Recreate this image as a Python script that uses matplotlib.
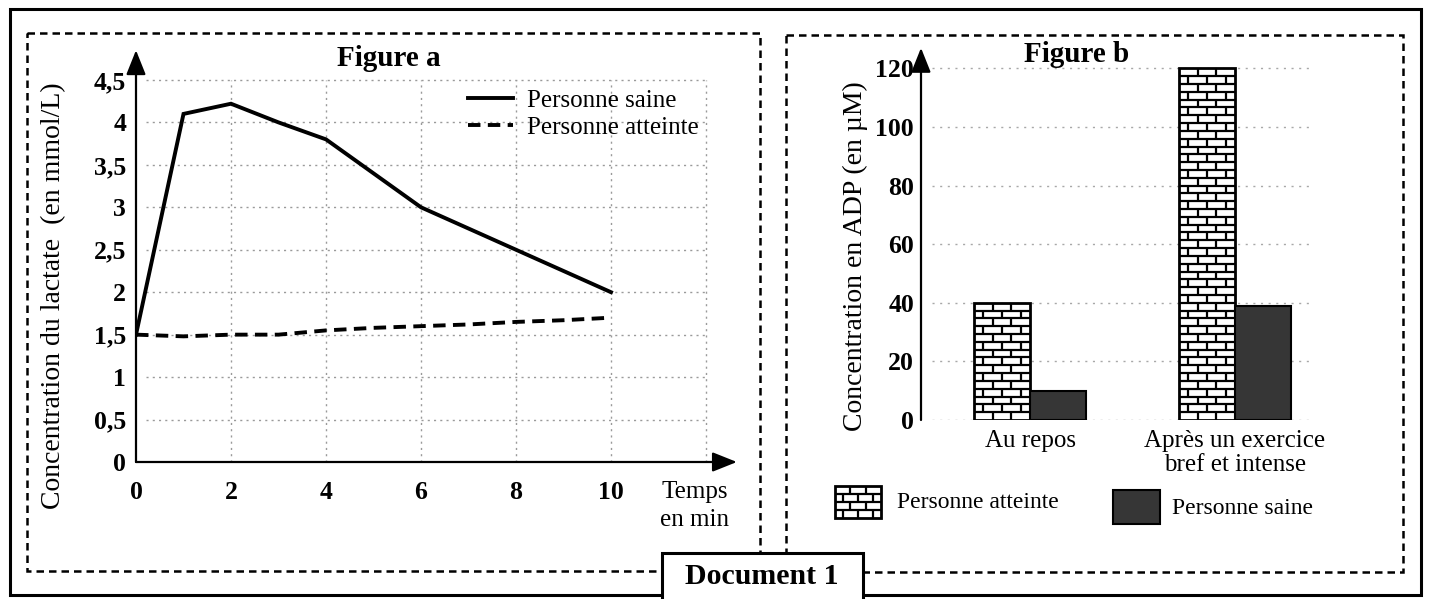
import numpy as np
import matplotlib
matplotlib.use("Agg")
import matplotlib.pyplot as plt
from matplotlib.patches import Rectangle
from matplotlib.collections import LineCollection

# ---------------- data ----------------
# Figure a : lactate concentration over time
time_min = [0, 1, 2, 3, 4, 5, 6, 7, 8, 9, 10]
lactate_saine = [1.5, 4.1, 4.22, 4.0, 3.8, 3.4, 3.0, 2.75, 2.5, 2.25, 2.0]
lactate_atteinte = [1.5, 1.48, 1.5, 1.5, 1.55, 1.58, 1.6, 1.62, 1.65, 1.67, 1.7]
yticks_a = [0, 0.5, 1, 1.5, 2, 2.5, 3, 3.5, 4, 4.5]
ytick_labels_a = ["0", "0,5", "1", "1,5", "2", "2,5", "3", "3,5", "4", "4,5"]
xticks_a = [0, 2, 4, 6, 8, 10]
xtick_labels_a = ["0", "2", "4", "6", "8", "10"]

# Figure b : ADP concentration
categories_b = ["Au repos", "Après un exercice\nbref et intense"]
adp_atteinte = [40, 120]
adp_saine = [10, 39]
yticks_b = [0, 20, 40, 60, 80, 100, 120]

W, H = 1429, 599
SERIF = ["Liberation Serif", "DejaVu Serif"]
plt.rcParams["font.family"] = SERIF

fig = plt.figure(figsize=(W / 100, H / 100), dpi=100)


def px_rect(left, right, top, bottom):
    return [left / W, 1 - bottom / H, (right - left) / W, (bottom - top) / H]


def fx(x):
    return x / W


def fy(y):
    return 1 - y / H


# overlay axes in pixel coordinates for frames / decorations
ov = fig.add_axes([0, 0, 1, 1], zorder=-1)
ov.set_xlim(0, W)
ov.set_ylim(H, 0)
ov.axis("off")

# outer solid frame
ov.add_patch(Rectangle((10, 9), 1411, 586, fill=False, lw=2.2, ec="black"))
# dashed frames
ov.add_patch(Rectangle((27, 33), 733, 538, fill=False, lw=1.8, ec="black",
                       ls=(0, (3, 2))))
ov.add_patch(Rectangle((786, 35), 617, 537, fill=False, lw=1.8, ec="black",
                       ls=(0, (3, 2))))


def draw_bricks(ax, x0, y0, w, h, row_h, n_cols, transform, clip, lw, z):
    rows = int(np.ceil(h / row_h - 1e-6))
    segs = []
    for r in range(rows):
        yb = y0 + r * row_h
        yt = min(yb + row_h, y0 + h)
        if r > 0:
            segs.append([(x0, yb), (x0 + w, yb)])
        off = 0.5 if r % 2 else 0.0
        for j in range(-1, n_cols + 2):
            xv = x0 + (j + off) * w / n_cols
            if x0 + 1e-9 < xv < x0 + w - 1e-9:
                segs.append([(xv, yb), (xv, yt)])
    lc = LineCollection(segs, colors="black", linewidths=lw,
                        transform=transform, zorder=z)
    lc.set_clip_path(clip)
    ax.add_collection(lc, autolim=False)


arrow_kw = dict(arrowstyle="-|>,head_length=1.0,head_width=0.4", lw=1.6,
                color="black", shrinkA=0, shrinkB=0, mutation_scale=15)

# ---------------- Figure a ----------------
xs_a = 47.5  # px per minute
ys_a = 84.9  # px per unit
xmax_a, ymax_a = 13.0, 4.9
axa = fig.add_axes(px_rect(136, 136 + xmax_a * xs_a, 462 - ymax_a * ys_a, 462))
axa.set_xlim(0, xmax_a)
axa.set_ylim(0, ymax_a)
for s in axa.spines.values():
    s.set_visible(False)
axa.patch.set_alpha(0)

grid_kw = dict(color="#9a9a9a", lw=1.0, ls=(0, (1.5, 3)), zorder=1)
axa.hlines(yticks_a[1:], 0.2, 12, **grid_kw)
axa.vlines([2, 4, 6, 8, 10, 12], 0, 4.5, **grid_kw)

axa.plot(time_min, lactate_saine, color="black", lw=2.8, solid_joinstyle="miter",
         label="Personne saine", zorder=3)
axa.plot(time_min, lactate_atteinte, color="black", lw=2.8,
         ls=(0, (3.2, 1.9)), label="Personne atteinte", zorder=3)

axa.annotate("", xy=(12.65, 0), xytext=(0, 0), arrowprops=arrow_kw,
             annotation_clip=False)
axa.annotate("", xy=(0, 4.85), xytext=(0, 0), arrowprops=arrow_kw,
             annotation_clip=False)

axa.set_yticks(yticks_a)
axa.set_yticklabels(ytick_labels_a, fontsize=18.5, fontweight="bold")
axa.set_xticks(xticks_a)
axa.set_xticklabels(xtick_labels_a, fontsize=18.5, fontweight="bold")
axa.tick_params(length=0)
axa.tick_params(axis="y", pad=7)
axa.tick_params(axis="x", pad=14)

leg = axa.legend(loc="upper left", bbox_to_anchor=((468 - 136) / (xmax_a * xs_a),
                                                   (462 - 89) / (ymax_a * ys_a)),
                 frameon=False, fontsize=18, handlelength=1.8,
                 handletextpad=0.55, labelspacing=0.2, borderpad=0,
                 borderaxespad=0)

fig.text(fx(389), fy(58), "Figure a", fontsize=21, fontweight="bold",
         ha="center", va="center")
fig.text(fx(54), fy(296), "Concentration du lactate  (en mmol/L)", fontsize=20,
         rotation=90, ha="center", va="center")
fig.text(fx(695), fy(506), "Temps\nen min", fontsize=18, ha="center",
         va="center", linespacing=1.3)

# ---------------- Figure b ----------------
xs_b = 205.0
ys_b = 2.93
xlo_b, xhi_b = -0.532, 1.40
ymax_b = 128
axb = fig.add_axes(px_rect(921, 921 + (xhi_b - xlo_b) * xs_b,
                           420 - ymax_b * ys_b, 420))
axb.set_xlim(xlo_b, xhi_b)
axb.set_ylim(0, ymax_b)
for s in axb.spines.values():
    s.set_visible(False)
axb.patch.set_alpha(0)

axb.hlines(yticks_b, -0.48, 1.36, color="#a8a8a8", lw=1.0,
           ls=(0, (1.5, 4)), zorder=1)

xpos = np.arange(len(categories_b))
bw = 0.273
bars_att = axb.bar(xpos - bw / 2, adp_atteinte, bw, color="white",
                   edgecolor="black", lw=2.0, zorder=2)
bars_san = axb.bar(xpos + bw / 2, adp_saine, bw, color="#363636",
                   edgecolor="black", lw=1.5, zorder=2)
row_h = 40 / 15
for b in bars_att:
    draw_bricks(axb, b.get_x(), b.get_y(), b.get_width(), b.get_height(),
                row_h, 3, axb.transData, b, 1.6, 2.5)

axb.annotate("", xy=(xlo_b, 127), xytext=(xlo_b, 0), arrowprops=arrow_kw,
             annotation_clip=False)

axb.set_yticks(yticks_b)
axb.set_yticklabels([str(v) for v in yticks_b], fontsize=18.5, fontweight="bold")
axb.set_xticks(xpos)
axb.set_xticklabels(categories_b, fontsize=18, linespacing=1.15)
axb.tick_params(length=0)
axb.tick_params(axis="y", pad=5)
axb.tick_params(axis="x", pad=7)

fig.text(fx(1077), fy(54), "Figure b", fontsize=21, fontweight="bold",
         ha="center", va="center")
fig.text(fx(855), fy(256), "Concentration en ADP (en µM)", fontsize=20,
         rotation=90, ha="center", va="center")

# legend of figure b (pixel overlay)
leg_att = Rectangle((835, 486), 46, 32, facecolor="white", edgecolor="black",
                    lw=2.0, zorder=2)
ov.add_patch(leg_att)
draw_bricks(ov, 835, 486, 46, 32, 8, 3, ov.transData, leg_att, 1.6, 2.5)
ov.text(897, 503, "Personne atteinte", fontsize=17, ha="left", va="center")
ov.add_patch(Rectangle((1113, 490), 47, 34, facecolor="#363636",
                       edgecolor="black", lw=1.5, zorder=2))
ov.text(1172, 508, "Personne saine", fontsize=17, ha="left", va="center")

# Document 1 box (on top)
doc = fig.add_axes([0, 0, 1, 1], zorder=5)
doc.set_xlim(0, W)
doc.set_ylim(H, 0)
doc.axis("off")
doc.add_patch(Rectangle((662, 553), 201, 50, facecolor="white", edgecolor="black",
                        lw=2.2, clip_on=False))
doc.text(762, 576, "Document 1", fontsize=21.5, fontweight="bold",
         ha="center", va="center")

fig.savefig("out.png", dpi=100)
